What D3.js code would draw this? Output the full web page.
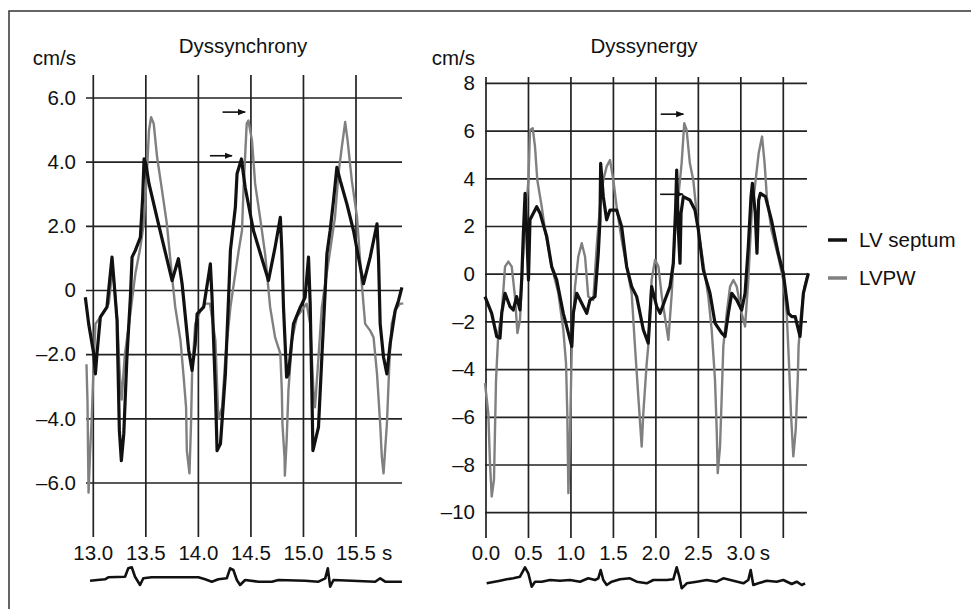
<!DOCTYPE html>
<html>
<head>
<meta charset="utf-8">
<script src="https://cdn.jsdelivr.net/npm/d3@7"></script>
<style>
  body { margin: 0; background: #fff; }
  text { font-family: "Liberation Sans", Arial, sans-serif; fill: #111; }
</style>
</head>
<body>
<div id="chart"></div>
<script>
// --------- DATA ---------

// Dyssynchrony panel, time (s) vs tissue velocity (cm/s)
const dysTicksX = [13.0, 13.5, 14.0, 14.5, 15.0, 15.5];
const dysTicksY = [6, 4, 2, 0, -2, -4, -6];
const dysLabelsY = ["6.0", "4.0", "2.0", "0", "\u20132.0", "\u20134.0", "\u20136.0"];

const dysSeptum = [[12.924,-0.21],[12.956,-1.04],[13.004,-1.97],[13.02,-2.6],[13.035,-1.97],[13.067,-0.83],[13.13,-0.52],
  [13.178,1.04],[13.194,0.41],[13.226,-0.94],[13.24,-3.12],[13.248,-4.36],[13.267,-5.3],[13.29,-4.47],[13.32,-2.08],
  [13.353,-0.21],[13.369,1.04],[13.4,1.25],[13.448,1.66],[13.47,2.91],[13.483,4.1],[13.5,3.95],[13.53,3.33],[13.62,2.08],
  [13.75,0.31],[13.81,0.99],[13.845,0.21],[13.908,-1.87],[13.94,-2.49],[13.97,-1.66],[13.988,-0.73],[14.05,-0.52],
  [14.1,0.52],[14.114,0.83],[14.13,-0.21],[14.162,-3.12],[14.178,-4.99],[14.21,-4.78],[14.257,-2.6],[14.29,0],
  [14.305,1.25],[14.352,2.6],[14.368,3.64],[14.41,4.1],[14.445,3.22],[14.524,1.87],[14.667,0.31],[14.73,1.35],
  [14.78,2.28],[14.794,1.25],[14.81,-0.52],[14.84,-2.7],[14.857,-2.6],[14.905,-1.04],[14.97,-0.52],[15.016,-0.21],
  [15.048,1.04],[15.064,-0.41],[15.08,-3.12],[15.09,-4.99],[15.143,-4.26],[15.175,-2.08],[15.207,0],[15.223,1.14],
  [15.254,1.87],[15.286,2.81],[15.318,3.84],[15.35,3.43],[15.413,2.7],[15.476,1.87],[15.571,0.21],[15.635,1.04],
  [15.7,2.08],[15.714,1.04],[15.73,-1.04],[15.762,-2.08],[15.794,-2.6],[15.825,-1.66],[15.873,-0.62],[15.905,-0.31],[15.937,0.1]];

const dysLvpw = [[12.935,-2.3],[12.945,-3.5],[12.95,-5.0],[12.955,-6.3],[12.97,-5.0],[12.985,-4.0],[13.0,-2.6],[13.02,-1.04],
  [13.067,-0.83],[13.147,-0.41],[13.18,0.6],[13.2,0.2],[13.23,-1.0],[13.25,-2.5],[13.27,-3.4],[13.3,-2.0],[13.34,-1.04],
  [13.4,0.52],[13.448,1.35],[13.48,2.08],[13.51,3.64],[13.53,4.99],[13.55,5.4],[13.575,5.2],[13.607,4.16],[13.654,3.12],
  [13.7,2.08],[13.75,0.41],[13.78,-0.52],[13.83,-1.56],[13.86,-2.7],[13.883,-3.64],[13.89,-4.99],[13.915,-5.7],[13.93,-4.16],
  [13.94,-2.6],[13.97,-1.04],[14.02,-0.62],[14.067,-0.41],[14.11,-0.41],[14.162,-1.56],[14.19,-4.0],[14.226,-3.64],
  [14.257,-2.08],[14.305,-0.52],[14.337,0.21],[14.384,1.25],[14.415,1.87],[14.43,3.2],[14.46,5.2],[14.476,5.3],[14.51,4.68],
  [14.54,3.33],[14.587,2.28],[14.635,1.14],[14.683,-0.52],[14.73,-1.46],[14.78,-1.97],[14.794,-3.12],[14.8,-4.16],
  [14.82,-5.2],[14.823,-5.77],[14.84,-4.68],[14.857,-3.12],[14.89,-1.56],[14.937,-0.83],[14.984,-0.62],[15.03,-0.41],
  [15.064,-1.04],[15.095,-3.12],[15.11,-3.64],[15.143,-2.08],[15.175,-0.52],[15.207,0.21],[15.254,1.25],[15.3,2.28],
  [15.333,3.64],[15.365,4.47],[15.397,5.25],[15.42,4.68],[15.46,3.43],[15.51,2.28],[15.55,0.41],[15.587,-1.04],
  [15.635,-1.25],[15.667,-1.46],[15.7,-2.6],[15.73,-4.16],[15.746,-5.2],[15.762,-5.7],[15.794,-4.16],[15.82,-2.08],
  [15.84,-1.04],[15.873,-0.62],[15.92,-0.41],[15.95,-0.41]];

// ECG strip under the left panel (time s, relative mV)
const dysEcg = [[12.969,-0.07],[13.111,0.07],[13.143,0.27],[13.302,0.33],[13.333,1.17],[13.366,1.27],[13.397,0.33],
  [13.445,-0.5],[13.476,0.17],[13.556,0.27],[14.0,0.27],[14.064,0.07],[14.128,-0.17],[14.19,0.07],[14.27,0.17],
  [14.302,1.17],[14.333,1.0],[14.366,0],[14.397,-0.5],[14.445,0],[14.571,-0.17],[14.699,-0.17],[14.762,0],
  [15.016,-0.07],[15.143,-0.17],[15.207,0.17],[15.232,1.17],[15.254,-0.67],[15.286,0],[15.461,-0.07],[15.683,-0.17],
  [15.73,0.17],[15.778,-0.17],[15.937,-0.17]];

// arrows: [tStart, tEnd, v]
const dysArrows = [[14.23, 14.445, 5.56], [14.11, 14.32, 4.2]];

// Dyssynergy panel
const synTicksX = [0.0, 0.5, 1.0, 1.5, 2.0, 2.5, 3.0, 3.5];
const synLabelsX = ["0.0", "0.5", "1.0", "1.5", "2.0", "2.5", "3.0", ""];
const synTicksY = [8, 6, 4, 2, 0, -2, -4, -6, -8, -10];
const synLabelsY = ["8", "6", "4", "2", "0", "\u20132", "\u20134", "\u20136", "\u20138", "\u201310"];

const synSeptum = [[-0.012,-0.94],[0.067,-1.64],[0.126,-2.61],[0.165,-2.68],[0.185,-1.64],[0.224,-0.8],[0.283,-1.36],
  [0.321,-1.5],[0.361,-0.94],[0.4,-1.5],[0.42,-0.24],[0.44,1.72],[0.46,3.39],[0.479,1.86],[0.5,-0.24],[0.518,2.28],
  [0.597,2.83],[0.636,2.56],[0.715,1.58],[0.773,0.32],[0.832,-0.24],[0.91,-1.64],[0.97,-2.47],[1.01,-3.03],[1.028,-1.64],
  [1.068,-0.8],[1.127,-1.22],[1.186,-1.64],[1.224,-1.08],[1.283,-0.94],[1.322,0.88],[1.342,2.28],[1.35,4.65],[1.381,3.25],
  [1.42,2.28],[1.46,2.69],[1.538,2.69],[1.597,1.99],[1.656,0.32],[1.715,-0.52],[1.774,-0.94],[1.852,-2.33],[1.91,-2.89],
  [1.95,-0.52],[2.01,-1.36],[2.05,-1.64],[2.107,-1.08],[2.166,-0.52],[2.205,0.46],[2.233,2.83],[2.245,4.37],[2.264,1.86],
  [2.284,0.46],[2.296,2.56],[2.323,3.25],[2.4,3.11],[2.46,2.69],[2.5,1.86],[2.558,0.18],[2.637,-0.8],[2.696,-2.05],
  [2.775,-2.47],[2.814,-2.61],[2.853,-1.64],[2.893,-0.8],[2.952,-1.08],[3.01,-1.5],[3.05,-0.8],[3.088,1.16],[3.12,3.25],
  [3.136,3.81],[3.17,2.56],[3.19,0.88],[3.21,3.11],[3.23,3.39],[3.29,3.25],[3.36,2.28],[3.44,0.88],[3.5,0.04],[3.56,-1.64],
  [3.6,-1.78],[3.64,-1.78],[3.697,-2.61],[3.736,-0.8],[3.795,0.04]];

const synLvpw = [[-0.012,-4.57],[0.027,-5.83],[0.047,-7.92],[0.067,-9.32],[0.094,-8.62],[0.106,-6.53],[0.118,-4.43],
  [0.145,-2.47],[0.185,-1.64],[0.224,0.32],[0.263,0.53],[0.303,0.32],[0.341,-0.94],[0.37,-2.47],[0.4,-1.92],[0.432,0.46],
  [0.46,2.28],[0.5,3.95],[0.518,6.05],[0.55,6.12],[0.577,5.35],[0.604,3.95],[0.656,2.83],[0.695,1.86],[0.773,0.32],
  [0.852,-0.8],[0.91,-2.33],[0.942,-3.73],[0.957,-5.83],[0.97,-9.18],[0.99,-6.53],[1.01,-3.03],[1.048,-0.52],[1.087,0.74],
  [1.127,1.3],[1.166,0.74],[1.204,-0.94],[1.263,-1.08],[1.303,1.16],[1.342,2.83],[1.381,3.95],[1.42,4.51],[1.46,4.79],
  [1.499,3.95],[1.538,2.83],[1.597,1.44],[1.656,0.32],[1.715,-0.8],[1.754,-3.03],[1.793,-5.13],[1.833,-7.23],[1.852,-5.83],
  [1.892,-3.73],[1.91,-3.03],[1.95,-0.24],[1.99,0.6],[2.03,0.32],[2.07,-0.94],[2.147,-2.75],[2.187,-0.8],[2.226,1.86],
  [2.264,3.25],[2.303,4.65],[2.334,6.33],[2.362,6.05],[2.4,4.65],[2.44,3.95],[2.5,1.86],[2.558,0.46],[2.617,-0.94],
  [2.657,-2.33],[2.696,-4.43],[2.716,-6.53],[2.728,-8.34],[2.755,-7.23],[2.775,-5.13],[2.794,-3.03],[2.834,-1.64],
  [2.873,-0.52],[2.912,-0.24],[2.952,-0.52],[3.01,-1.64],[3.05,-2.19],[3.088,-0.24],[3.128,2.56],[3.17,3.81],[3.21,5.07],
  [3.25,5.77],[3.28,4.65],[3.306,3.25],[3.36,1.86],[3.44,0.74],[3.5,-0.24],[3.54,-1.64],[3.567,-3.73],[3.59,-5.83],
  [3.618,-7.64],[3.646,-6.53],[3.67,-4.43],[3.68,-3.03],[3.71,-1.64],[3.75,-0.52],[3.79,0.04]];

const synEcg = [[0.008,-0.33],[0.165,-0.07],[0.244,0.07],[0.321,0.17],[0.4,0.33],[0.459,1.27],[0.498,0.67],[0.538,-0.67],
  [0.577,-0.17],[0.656,-0.17],[0.753,0],[0.871,-0.07],[0.989,0],[1.107,-0.17],[1.204,0.17],[1.283,0],[1.322,0.17],
  [1.35,1.0],[1.381,0],[1.421,-0.5],[1.48,-0.17],[1.578,0.07],[1.695,0.17],[1.774,-0.17],[1.892,-0.33],[1.97,0],
  [2.127,0],[2.205,0.07],[2.245,1.27],[2.276,0.33],[2.304,-0.83],[2.363,-0.33],[2.481,-0.17],[2.598,0],[2.716,-0.17],
  [2.794,0.17],[2.912,-0.07],[3.03,-0.33],[3.088,0],[3.116,1.0],[3.147,-0.5],[3.206,-0.33],[3.305,-0.07],[3.422,-0.17],
  [3.5,0],[3.599,-0.4],[3.658,-0.17],[3.717,-0.5],[3.756,-0.33]];

const synArrows = [[2.057, 2.323, 6.71], [2.05, 2.32, 3.35]];

const legendNames = ["LV septum", "LVPW"];
const legendColors = ["#111", "#808080"];

// --------- DRAWING ---------

const W = 971, H = 609;
const FONT = "20.5px";
const svg = d3.select("#chart").append("svg")
    .attr("width", W).attr("height", H);

svg.append("defs").append("marker")
    .attr("id", "arrowhead")
    .attr("viewBox", "0 0 10 10")
    .attr("refX", 9).attr("refY", 5)
    .attr("markerWidth", 5).attr("markerHeight", 5)
    .attr("orient", "auto")
    .append("path").attr("d", "M0,1 L10,5 L0,9 Z").attr("fill", "#111");

// frame (top and left edges)
svg.append("path")
    .attr("d", "M9,609 L9,11 L971,11")
    .attr("fill", "none").attr("stroke", "#333").attr("stroke-width", 1.5);

function panel(cfg) {
    let x = d3.scaleLinear().domain(cfg.xDomain).range(cfg.xRange);
    let y = d3.scaleLinear().domain(cfg.yDomain).range(cfg.yRange);
    let g = svg.append("g");

    // gridlines
    g.selectAll(".hgrid").data(cfg.ticksY).enter().append("line")
        .attr("x1", cfg.gridX[0]).attr("x2", cfg.gridX[1])
        .attr("y1", d => y(d)).attr("y2", d => y(d))
        .attr("stroke", "#222").attr("stroke-width", 1.7);
    g.selectAll(".vgrid").data(cfg.ticksX).enter().append("line")
        .attr("x1", d => x(d)).attr("x2", d => x(d))
        .attr("y1", cfg.gridY[0]).attr("y2", cfg.gridY[1])
        .attr("stroke", "#222").attr("stroke-width", 1.7);

    // tick labels
    g.selectAll(".ylab").data(cfg.ticksY).enter().append("text")
        .attr("x", cfg.yLabelX).attr("y", d => y(d))
        .attr("dy", "0.33em").attr("text-anchor", "end")
        .style("font-size", FONT)
        .text((d, i) => cfg.labelsY[i]);
    g.selectAll(".xlab").data(cfg.ticksX).enter().append("text")
        .attr("x", d => x(d)).attr("y", cfg.xLabelY)
        .attr("text-anchor", "middle")
        .style("font-size", FONT)
        .text((d, i) => cfg.labelsX[i]);
    g.append("text")
        .attr("x", x(cfg.unitAt) + cfg.unitDx).attr("y", cfg.xLabelY)
        .style("font-size", FONT).text("s");

    // titles
    g.append("text")
        .attr("x", cfg.titleX).attr("y", 52.5)
        .attr("text-anchor", "middle")
        .style("font-size", FONT)
        .text(cfg.title);
    g.append("text")
        .attr("x", cfg.yLabelX).attr("y", 64.5)
        .attr("text-anchor", "end")
        .style("font-size", FONT)
        .text("cm/s");

    // velocity curves
    let line = d3.line().x(d => x(d[0])).y(d => y(d[1]));
    g.append("path").attr("d", line(cfg.lvpw))
        .attr("fill", "none").attr("stroke", legendColors[1])
        .attr("stroke-width", 2.4).attr("stroke-linejoin", "round");
    g.append("path").attr("d", line(cfg.septum))
        .attr("fill", "none").attr("stroke", legendColors[0])
        .attr("stroke-width", 3.2).attr("stroke-linejoin", "round");

    // arrows
    g.selectAll(".arrow").data(cfg.arrows).enter().append("line")
        .attr("x1", d => x(d[0])).attr("x2", d => x(d[1]))
        .attr("y1", d => y(d[2])).attr("y2", d => y(d[2]))
        .attr("stroke", "#111").attr("stroke-width", 1.6)
        .attr("marker-end", "url(#arrowhead)");

    // ECG strip
    let ey = d3.scaleLinear().domain([-1, 1]).range([cfg.ecgBase + 10, cfg.ecgBase - 10]);
    let ecgLine = d3.line().x(d => x(d[0])).y(d => ey(d[1]));
    g.append("path").attr("d", ecgLine(cfg.ecg))
        .attr("fill", "none").attr("stroke", "#111")
        .attr("stroke-width", 2.6).attr("stroke-linejoin", "round");
}

panel({
    title: "Dyssynchrony", titleX: 243,
    xDomain: [13, 15.5], xRange: [93.3, 356],
    yDomain: [6, -6], yRange: [98, 483],
    gridX: [86, 402], gridY: [75, 537],
    ticksX: dysTicksX, labelsX: dysTicksX.map(d => d.toFixed(1)),
    ticksY: dysTicksY, labelsY: dysLabelsY,
    yLabelX: 76, xLabelY: 560, unitAt: 15.5, unitDx: 26,
    septum: dysSeptum, lvpw: dysLvpw, arrows: dysArrows,
    ecg: dysEcg, ecgBase: 580
});

panel({
    title: "Dyssynergy", titleX: 644,
    xDomain: [0, 3.5], xRange: [486, 783.3],
    yDomain: [8, -10], yRange: [83.4, 512.7],
    gridX: [485, 807], gridY: [77, 538],
    ticksX: synTicksX, labelsX: synLabelsX,
    ticksY: synTicksY, labelsY: synLabelsY,
    yLabelX: 475, xLabelY: 560, unitAt: 3.0, unitDx: 19,
    septum: synSeptum, lvpw: synLvpw, arrows: synArrows,
    ecg: synEcg, ecgBase: 580
});

// legend
let legend = svg.append("g").selectAll("g").data(legendNames).enter().append("g")
    .attr("transform", (d, i) => "translate(828," + (240 + i * 38) + ")");
legend.append("line")
    .attr("x1", 0).attr("x2", 19).attr("y1", 0).attr("y2", 0)
    .attr("stroke", (d, i) => legendColors[i]).attr("stroke-width", 3.5);
legend.append("text")
    .attr("x", 31).attr("y", 0).attr("dy", "0.33em")
    .style("font-size", FONT)
    .text(d => d);
</script>
</body>
</html>
